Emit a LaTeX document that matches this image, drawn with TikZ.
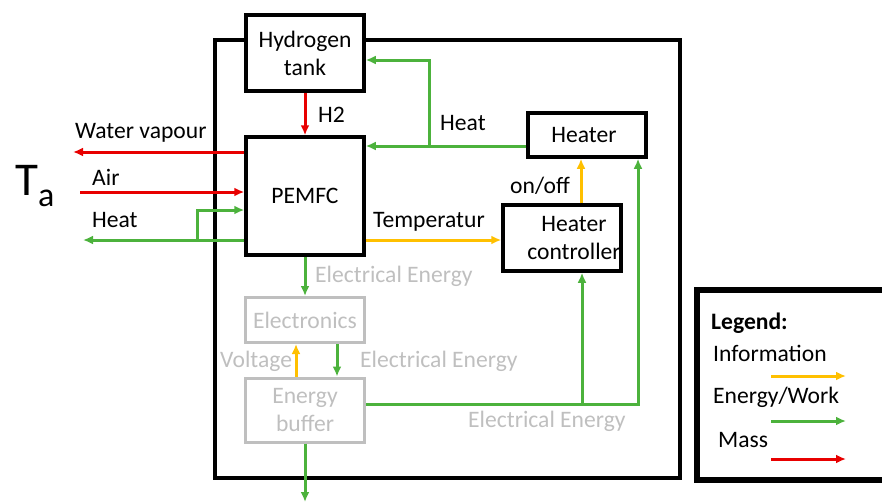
\documentclass[tikz,border=0pt]{standalone}
\usepackage{fontspec}
\setmainfont{Carlito}
\usetikzlibrary{arrows.meta,positioning}
\definecolor{infoc}{RGB}{255,192,0}
\definecolor{workc}{RGB}{76,178,60}
\definecolor{massc}{RGB}{232,0,0}
\definecolor{greyc}{RGB}{191,191,191}
\begin{document}
\begin{tikzpicture}[x=1pt,y=-1pt,font=\fontsize{23.6}{28}\selectfont]
\tikzset{b/.style={draw,line width=3.5pt,fill=white,minimum width=118pt,align=center,inner sep=0pt}}
\tikzset{gb/.style={draw=greyc,line width=3pt,text=greyc,minimum width=119pt,align=center,inner sep=0pt}}
\tikzset{lbl/.style={anchor=west,inner sep=0pt}}
\tikzset{info/.style={-{Latex[length=10pt,width=9pt]},infoc,line width=3pt}}
\tikzset{work/.style={-{Latex[length=10pt,width=9pt]},workc,line width=3pt}}
\tikzset{mass/.style={-{Latex[length=10pt,width=9pt]},massc,line width=3pt}}
\useasboundingbox (0,0) rectangle (882,503);
\draw[line width=3.5pt] (215,40) rectangle (680,478);
\node[b,minimum height=76pt] (tank) at (305,53) {Hydrogen\\tank};
\node[b,minimum height=118pt] (pemfc) at (305,196) {PEMFC};
\node[b,minimum height=44pt] (heater) at (587,135) {\hspace*{-6pt}Heater};
\node[b,minimum height=66pt] (ctrl) at (562,238) {};
\node[align=center,inner sep=0pt] (ctrltxt) at (574,238) {Heater\\controller};
\node[gb,minimum height=45pt] (elec) at (305,320) {Electronics};
\node[gb,minimum height=64pt] (buffer) at (305,410) {Energy\\buffer};
\node[lbl] (h2) at (318,115) {H2};
\node[lbl] (wvtxt) at (75,133) {Water vapour};
\node[lbl] (airtxt) at (92,177) {Air};
\node[lbl] (heattxt) at (92,220) {Heat};
\node[lbl] (ta) at (15,186) {\fontsize{47}{50}\selectfont T\raisebox{-11pt}{\fontsize{34}{36}\selectfont a}};
\node[lbl] (heattxt2) at (440,123) {Heat};
\node[lbl] (temp) at (373,222) {Temperatur};
\node[lbl] (onoff) at (510,186) {on/off};
\node[lbl,text=greyc] (ee1) at (315,276) {Electrical Energy};
\node[lbl,text=greyc] (volt) at (220,361) {Voltage};
\node[lbl,text=greyc] (ee2) at (360,361) {Electrical Energy};
\node[lbl,text=greyc] (ee3) at (468,421) {Electrical Energy};
\coordinate (wv) at (73,152); \coordinate (air) at (80,192); \coordinate (hout) at (83,240);
\coordinate (hl) at (197,240); \coordinate (hb) at (429,146); \coordinate (oo) at (581,0);
\coordinate (eb) at (638,404); \coordinate (ec) at (582,404); \coordinate (out) at (305,502);
\draw[mass] (tank) -- (pemfc);
\draw[mass] ([yshift=44pt]pemfc.west) -- (wv);
\draw[mass] (air) -- (pemfc.west |- air);
\draw[work] (pemfc.west |- hout) -- (hout);
\draw[work] (hl) |- ([yshift=-14pt]pemfc.west);
\draw[work] (heater.west |- hb) -- (pemfc.east |- hb);
\draw[work] (hb) |- ([yshift=-7pt]tank.east);
\draw[info] ([yshift=-44pt]pemfc.east) -- ([yshift=-44pt]pemfc.east -| ctrl.west);
\draw[info] (ctrl.north -| oo) -- (heater.south -| oo);
\draw[work] (pemfc) -- (elec);
\draw[info] ([xshift=-9pt]buffer.north) -- ([xshift=-9pt]elec.south);
\draw[work] ([xshift=32pt]elec.south) -- ([xshift=32pt]buffer.north);
\draw[work] (buffer.east |- eb) -- (eb) -- (heater.south -| eb);
\draw[work] (ec) -- (ctrl.south -| ec);
\draw[work] (buffer) -- (out);
\node[draw,line width=6.5pt,minimum width=193pt,minimum height=190pt] (legend) at (793.5,385) {};
\node[lbl,font=\fontsize{23.6}{28}\selectfont\bfseries] (legtxt) at (711,323) {Legend:};
\node[lbl] (infotxt) at (713,353) {Information};
\node[lbl] (worktxt) at (713,397) {Energy/Work};
\node[lbl] (masstxt) at (718,440) {Mass};
\coordinate (li1) at (771,376); \coordinate (li2) at (846,376);
\coordinate (lw1) at (771,421); \coordinate (lw2) at (846,421);
\coordinate (lm1) at (771,459); \coordinate (lm2) at (846,459);
\draw[info] (li1) -- (li2); \draw[work] (lw1) -- (lw2); \draw[mass] (lm1) -- (lm2);
\end{tikzpicture}
\end{document}
